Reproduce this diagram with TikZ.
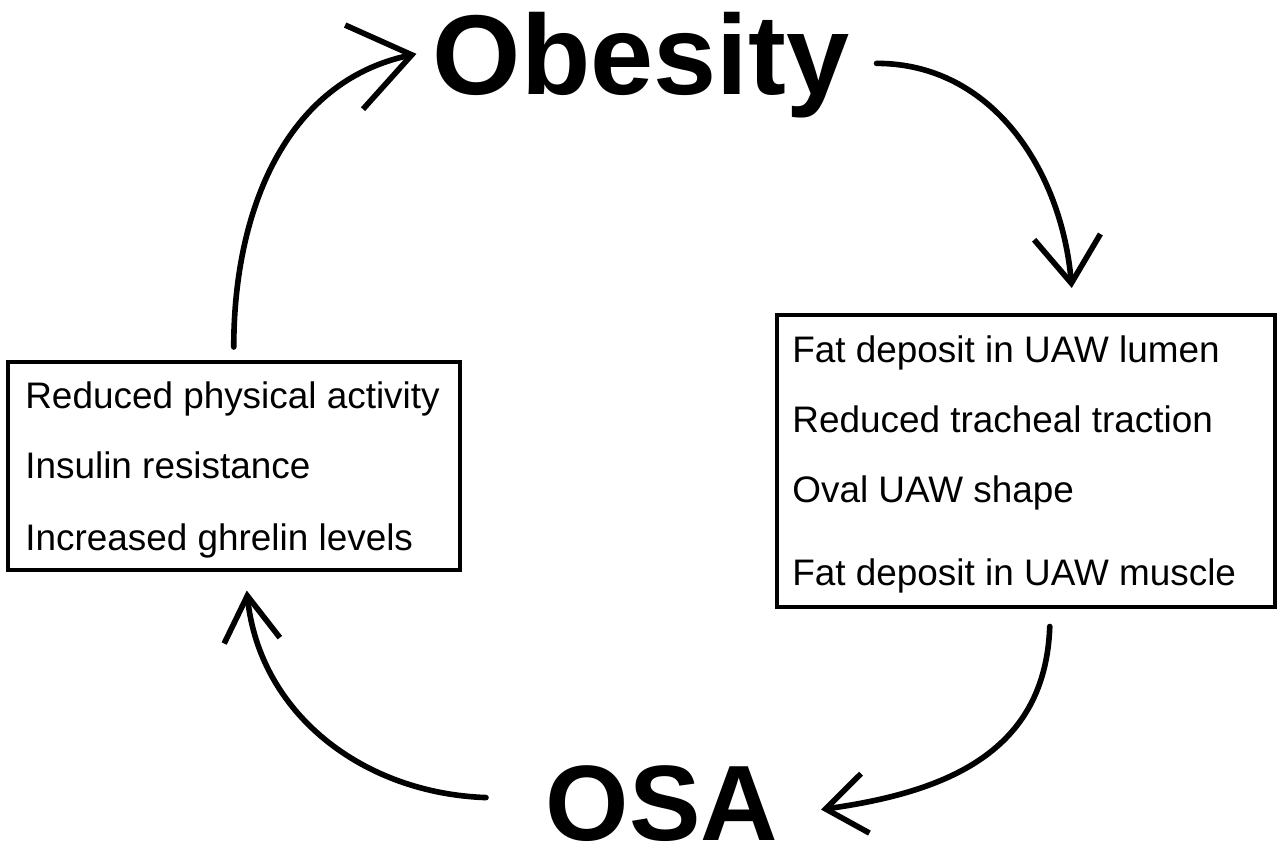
\documentclass[tikz,border=0pt]{standalone}
\usepackage{fontspec}
\setmainfont{Liberation Sans}
\usepackage{tikz}
\usetikzlibrary{positioning,arrows.meta}

\begin{document}
\begin{tikzpicture}[
title/.style={inner sep=0pt, anchor=base, text depth=0pt, font=\bfseries},
factorbox/.style={rectangle, draw=black, line width=2pt, anchor=north west, inner sep=0pt},
factor/.style={inner sep=0pt, anchor=base west, font=\fontsize{21}{25}\selectfont},
cycle/.style={line width=3.2pt, line cap=round},
]
\useasboundingbox (0,0) rectangle (25.6,-17.12);

\node[title, font=\fontsize{64.6}{70}\selectfont\bfseries] (obesity) at (12.82,-1.9) {Obesity};
\node[title, font=\fontsize{61}{66}\selectfont\bfseries] (osa) at (13.24,-16.8) {OSA};
\node[factorbox, minimum width=9.04cm, minimum height=4.16cm] (lbox) at (0.12,-7.2) {};
\node[factorbox, minimum width=9.96cm, minimum height=5.84cm] (rbox) at (15.5,-6.26) {};

%Left box
\node[factor] (activity) at (0.5,-8.16) {Reduced physical activity};
\node[factor] (insulin) at (0.5,-9.56) {Insulin resistance};
\node[factor] (ghrelin) at (0.5,-11.0) {Increased ghrelin levels};

%Right box
\node[factor] (lumen) at (15.84,-7.24) {Fat deposit in UAW lumen};
\node[factor] (traction) at (15.84,-8.64) {Reduced tracheal traction};
\node[factor] (shape) at (15.84,-10.04) {Oval UAW shape};
\node[factor] (muscle) at (15.84,-11.7) {Fat deposit in UAW muscle};

%Cycle arrows
\draw[cycle, -{Straight Barb[length=1.18cm, width=1.72cm]}]
  ([yshift=0.26cm]lbox.north) to[out=90, in=192] ([xshift=-0.32cm]obesity.west);
\draw[cycle, -{Straight Barb[length=0.93cm, width=1.33cm]}]
  ([shift={(0.54,-0.19)}]obesity.east) to[out=0, in=95] ([shift={(0.92,0.5)}]rbox.north);
\draw[cycle, -{Straight Barb[length=0.8cm, width=1.2cm]}]
  ([shift={(0.48,-0.36)}]rbox.south) to[out=-92, in=8, looseness=1.1] ([shift={(0.85,-0.14)}]osa.east);
\draw[cycle, -{Straight Barb[length=0.9cm, width=1.12cm]}]
  ([shift={(-1.19,0.1)}]osa.west) to[out=178, in=-84] ([shift={(0.26,-0.38)}]lbox.south);
\end{tikzpicture}
\end{document}
